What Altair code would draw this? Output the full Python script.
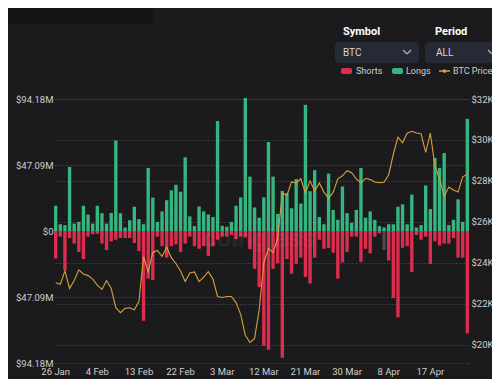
import altair as alt
import pandas as pd

# ---------------- data ----------------
days = pd.date_range("2023-01-26", periods=90, freq="D")
day_labels = [f"{d.day} {d.strftime('%b')}" for d in days]

# Longs liquidations (millions USD)
longs = [18.0, 4.8, 4.2, 45.7, 5.3, 6.5, 18.0, 11.8, 5.3, 18.0,
         12.7, 5.3, 12.9, 64.6, 12.7, 2.5, 7.6, 17.3, 8.5, 4.8,
         45.0, 23.8, 6.5, 14.0, 22.0, 29.0, 33.0, 28.0, 52.6, 10.4,
         3.5, 17.5, 14.0, 11.8, 10.0, 78.5, 3.7, 3.0, 6.5, 18.0,
         24.0, 94.9, 38.8, 16.8, 9.5, 24.0, 63.5, 38.8, 12.2, 28.6,
         27.0, 16.2, 37.0, 19.6, 90.0, 28.4, 43.4, 10.0, 4.8, 41.0,
         15.0, 8.0, 31.8, 12.7, 5.8, 15.0, 45.0, 9.5, 14.0, 8.0,
         3.5, 2.5, 4.8, 4.8, 17.3, 19.0, 4.8, 26.0, 2.5, 4.2,
         32.5, 15.7, 52.0, 45.0, 55.6, 4.2, 8.0, 22.6, 6.5, 80.0]

# Shorts liquidations (millions USD)
shorts = [19.6, 4.0, 28.0, 5.0, 9.0, 15.0, 20.0, 4.0, 2.3, 2.0,
          9.0, 13.6, 7.4, 6.2, 5.0, 5.0, 5.0, 8.5, 14.3, 64.0,
          34.0, 35.0, 4.0, 10.8, 19.0, 10.8, 9.7, 15.0, 9.0, 4.0,
          10.8, 12.7, 10.8, 17.8, 10.8, 6.2, 4.0, 4.0, 2.8, 5.8,
          4.0, 4.6, 13.0, 27.0, 40.0, 82.0, 84.7, 27.0, 23.0, 90.5,
          20.0, 30.5, 23.5, 19.0, 32.8, 37.4, 19.0, 6.2, 12.7, 12.0,
          15.5, 34.0, 22.4, 15.0, 4.0, 4.0, 22.0, 12.7, 16.0, 4.0,
          1.6, 13.6, 21.0, 47.8, 61.6, 12.0, 10.8, 29.3, 2.8, 6.2,
          4.0, 23.5, 7.4, 10.4, 9.0, 9.0, 5.0, 19.0, 19.0, 73.0]

# BTC price (USD)
price = [23025, 22950, 23600, 22740, 23130, 23650, 23450, 23370, 23200, 22900,
         22700, 23130, 22740, 21800, 21560, 21770, 21800, 21700, 22100, 24300,
         23560, 24500, 24600, 24300, 24750, 24250, 23950, 23600, 23080, 23500,
         23550, 23080, 23300, 23560, 23200, 22350, 22300, 22350, 22350, 22050,
         21480, 20450, 20100, 20300, 21700, 24000, 24700, 24500, 25200, 27400,
         27300, 27950, 27900, 28100, 27400, 28000, 27500, 27900, 27450, 27150,
         27450, 28100, 28250, 28500, 28400, 28100, 27900, 28125, 28060, 27940,
         27905, 27930, 28300, 29300, 30140, 29860, 30330, 30425, 30340, 30300,
         29390, 30330, 28725, 28100, 27250, 27700, 27550, 27450, 28200, 28330]

x_tick_labels = ["26 Jan", "4 Feb", "13 Feb", "22 Feb", "3 Mar",
                 "12 Mar", "21 Mar", "30 Mar", "8 Apr", "17 Apr"]
left_ticks = [-94.18, -47.09, 0, 47.09, 94.18]
right_ticks = [20000, 22000, 24000, 26000, 28000, 30000, 32000]
hover_day = "7 Apr"   # short bar shown highlighted (grey) in the reference

# ---------------- styling ----------------
BG = "#1b1b1d"
RED = "#dc2d4f"
GREEN = "#35b580"
GOLD = "#d6a13c"
HOVER = "#4a4a4d"
LABEL = "#cfcfcf"
GRID = "#404043"
FONT = "Roboto"
AX = 9.5
W, H = 415, 264

bar_df = pd.DataFrame({
    "day": day_labels * 2,
    "side": ["Longs"] * 90 + ["Shorts"] * 90,
    "val": longs + [-s for s in shorts],
})
line_df = pd.DataFrame({"day": day_labels, "price": price})
tick_df = pd.DataFrame({"day": x_tick_labels})

x_scale = alt.Scale(domain=day_labels, paddingInner=0.27, paddingOuter=0.0)

bars = alt.Chart(bar_df).mark_bar().encode(
    x=alt.X("day:N", sort=day_labels, title=None, scale=x_scale, axis=None),
    y=alt.Y("val:Q", stack=None, title=None,
            scale=alt.Scale(domain=[-94.18, 94.18], nice=False),
            axis=alt.Axis(values=left_ticks, domain=False, ticks=False,
                          labelExpr="datum.value == 0 ? '$0' : '$' + format(abs(datum.value), '.2f') + 'M'",
                          grid=True, gridColor=GRID, gridDash=[2, 2], gridWidth=1,
                          labelColor=LABEL, labelFontSize=AX, labelFont=FONT,
                          labelPadding=1)),
    color=alt.condition(
        f"datum.day == '{hover_day}' && datum.side == 'Shorts'",
        alt.value(HOVER),
        alt.Color("side:N", scale=alt.Scale(domain=["Shorts", "Longs"], range=[RED, GREEN]),
                  legend=None),
    ),
)

line = alt.Chart(line_df).mark_line(color=GOLD, strokeWidth=1.1).encode(
    x=alt.X("day:N", sort=day_labels, axis=None),
    y=alt.Y("price:Q", title=None,
            scale=alt.Scale(domain=[19100, 32000], nice=False, zero=False),
            axis=alt.Axis(orient="right", values=right_ticks, domain=False, ticks=False,
                          labelExpr="'$' + format(datum.value / 1000, 'd') + 'K'",
                          grid=True, gridColor=GRID, gridDash=[2, 2], gridWidth=1,
                          labelColor=LABEL, labelFontSize=AX, labelFont=FONT,
                          labelPadding=2)),
)

x_labels = alt.Chart(tick_df).mark_text(
    color=LABEL, fontSize=AX, font=FONT, baseline="middle", align="center"
).encode(
    x=alt.X("day:N", sort=day_labels, axis=None),
    y=alt.value(H + 9),
    text="day:N",
)

one = pd.DataFrame({"a": [0]})


def rect(x1, x2, y1, y2, color, radius=0):
    return alt.Chart(one).mark_rect(color=color, cornerRadius=radius).encode(
        x=alt.value(x1), x2=alt.value(x2), y=alt.value(y1), y2=alt.value(y2))


def text(t, x, y, color=LABEL, size=9, weight="normal", opacity=1.0, align="left"):
    return alt.Chart(one).mark_text(text=t, color=color, fontSize=size, fontWeight=weight,
                                    font=FONT, align=align, baseline="middle",
                                    opacity=opacity).encode(
        x=alt.value(x), y=alt.value(y))


def seg(x1, y1, x2, y2, color, width=1.3):
    return alt.Chart(one).mark_rule(color=color, strokeWidth=width).encode(
        x=alt.value(x1), y=alt.value(y1), x2=alt.value(x2), y2=alt.value(y2))


# coordinates relative to plot origin (page x=54, y=99)
decor = [
    rect(-49, 99, -94, -75, "#141416"),
    text("Symbol", 289, -67, color="#ffffff", size=11, weight="bold"),
    text("Period", 381, -67, color="#ffffff", size=11, weight="bold"),
    rect(281, 365, -57, -36, "#262a35", 4),
    text("BTC", 289, -46.5, color="#d6d6d6", size=10),
    seg(349, -49, 353, -45, "#aab0bf"),
    seg(353, -45, 357, -49, "#aab0bf"),
    rect(371, 460, -57, -36, "#262a35", 4),
    text("ALL", 382, -46.5, color="#d6d6d6", size=10),
    seg(434, -49, 438, -45, "#aab0bf"),
    rect(287, 298, -31, -25, RED, 2),
    text("Shorts", 302, -28),
    rect(338, 349, -31, -25, GREEN, 2),
    text("Longs", 352, -28),
    seg(385, -28, 396, -28, GOLD, 1.5),
    alt.Chart(one).mark_point(color=GOLD, filled=True, size=14, opacity=1).encode(
        x=alt.value(390.5), y=alt.value(-28)),
    text("BTC Price", 399, -28),
    text("coinglass", 205, 140, color="#ffffff", size=26, weight="bold", opacity=0.05,
         align="center"),
]

chart = alt.layer(bars, line, x_labels, *decor).resolve_scale(y="independent").properties(
    width=W, height=H,
    autosize=alt.AutoSizeParams(type="none"),
    padding={"left": 46, "top": 91, "right": 23, "bottom": 16},
    background=BG,
).configure_view(stroke=None)

chart.save("out.html", embed_options={"renderer": "svg", "actions": False})
